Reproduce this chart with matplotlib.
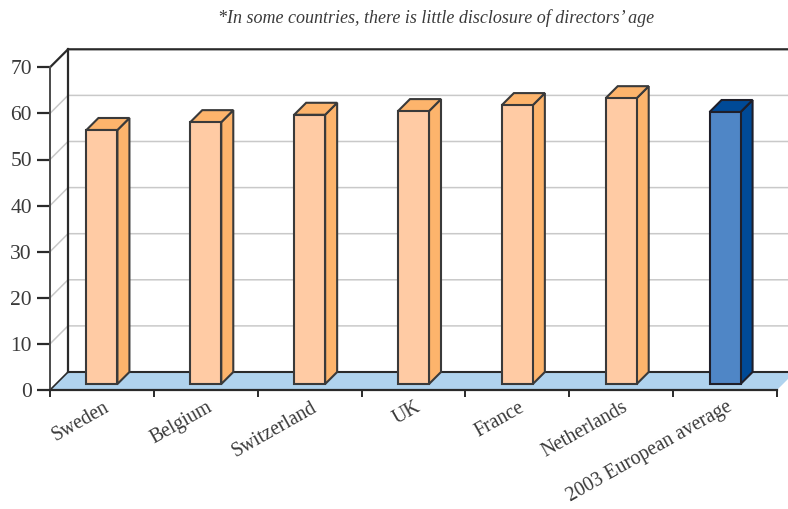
import numpy as np
import matplotlib
matplotlib.use("Agg")
import matplotlib.pyplot as plt
from matplotlib.patches import Polygon

countries = ['Sweden', 'Belgium', 'Switzerland', 'UK', 'France', 'Netherlands', '2003 European average']
ages = [55.1, 56.8, 58.4, 59.2, 60.5, 62.0, 59.0]
y_ticks = [0, 10, 20, 30, 40, 50, 60, 70]

DARK = '#2a2a2a'
GRID = '#c9c9c9'
FLOOR = '#b0d3ee'

W, H = 788, 509
# front plane of the fake 3D box, in pixels
L, R, B, T = 50, 777, 390, 67.3

plt.rcParams['font.family'] = ['Liberation Serif', 'DejaVu Serif']

fig = plt.figure(figsize=(W / 100, H / 100), dpi=100)
ax = fig.add_axes([L / W, 1 - B / H, (R - L) / W, (B - T) / H])
ax.set_xlim(0, 7)
ax.set_ylim(0, 70)

# pixel sizes expressed in data units
px = 7 / (R - L)
py = 70 / (B - T)

wall_dx, wall_dy = 18 * px, 18 * py
depth_dx, depth_dy = 12 * px, 12 * py
lift_dy = 6 * py
half_w = 15.5 * px


def box(pts, fc, ec=DARK, lw=1.5, z=3):
    ax.add_patch(Polygon(pts, closed=True, fc=fc, ec=ec, lw=lw, zorder=z,
                         clip_on=False, joinstyle='miter'))


# back wall grid lines and their diagonals on the side wall
for v in y_ticks[1:]:
    col = DARK if v == 70 else GRID
    ax.plot([0, wall_dx, 7 + wall_dx], [v, v + wall_dy, v + wall_dy],
            color=col, lw=1.6 if v == 70 else 1.1, zorder=1, clip_on=False)

# floor
box([(0, 0), (7, 0), (7 + wall_dx, wall_dy), (wall_dx, wall_dy)], FLOOR, ec='none', lw=0, z=1.5)
ax.plot([wall_dx, 7 + wall_dx], [wall_dy, wall_dy], color=DARK, lw=1.5, zorder=1.6, clip_on=False)
ax.plot([0, wall_dx], [0, wall_dy], color=DARK, lw=1.2, zorder=1.6, clip_on=False)

# back corner of the box
ax.plot([wall_dx, wall_dx], [wall_dy, 70 + wall_dy], color=DARK, lw=1.6, zorder=1.6, clip_on=False)

# columns
for i, (name, age) in enumerate(zip(countries, ages)):
    if i == len(countries) - 1:
        front, side, edge = '#4f86c6', '#004a97', '#1f1f2a'
    else:
        front, side, edge = '#ffcba4', '#fdb46c', '#3a3a3a'
    x0 = i + 0.5 - half_w
    x1 = i + 0.5 + half_w
    y0 = lift_dy
    y1 = lift_dy + age
    box([(x1, y0), (x1 + depth_dx, y0 + depth_dy), (x1 + depth_dx, y1 + depth_dy), (x1, y1)], side, ec=edge)
    box([(x0, y1), (x1, y1), (x1 + depth_dx, y1 + depth_dy), (x0 + depth_dx, y1 + depth_dy)], side, ec=edge)
    box([(x0, y0), (x1, y0), (x1, y1), (x0, y1)], front, ec=edge)

# front axes
for s in ['top', 'right']:
    ax.spines[s].set_visible(False)
ax.spines['left'].set_linewidth(1.4)
ax.spines['left'].set_color('#4a4a4a')
ax.spines['bottom'].set_linewidth(1.6)
ax.spines['bottom'].set_color(DARK)
ax.spines['left'].set_zorder(5)
ax.spines['bottom'].set_zorder(5)

ax.set_yticks(y_ticks)
ax.set_xticks(np.arange(8))
ax.set_xticklabels([])
ax.tick_params(axis='y', length=9.5, width=1.6, color=DARK, labelsize=15.5, labelcolor='#3a3a3a', pad=3.5)
ax.tick_params(axis='x', length=5, width=1.4, color=DARK)

for i, name in enumerate(countries):
    ax.annotate(name, xy=(i + 0.5, 0), xytext=(1, -8), textcoords='offset pixels',
                rotation=29.5, rotation_mode='anchor', ha='right', va='top',
                fontsize=14.2, color='#3a3a3a', annotation_clip=False)

fig.text(436 / W, 1 - 18 / H, '*In some countries, there is little disclosure of directors\u2019 age',
         ha='center', va='center', fontsize=13, style='italic', color='#3a3a3a')

fig.savefig('out.png', dpi=100)
